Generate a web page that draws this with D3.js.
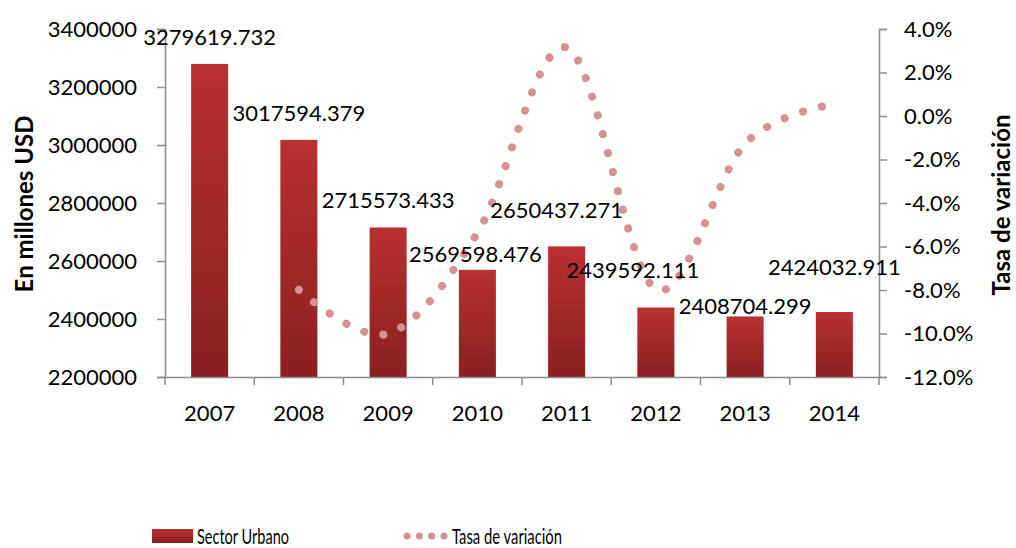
<!DOCTYPE html>
<html>
<head>
<meta charset="utf-8">
<script src="https://cdn.jsdelivr.net/npm/d3@7"></script>
<style>
  body { margin: 0; background: #fff; }
  svg { display: block; font-family: Lato, "Open Sans", sans-serif; }
  .axis path, .axis line { stroke: #8c8c8c; stroke-width: 1.5; }
  .axis text { font-size: 22px; fill: #000; font-family: Lato, sans-serif; }
  .val { font-size: 22px; fill: #000; }
  .title { font-size: 24px; font-weight: bold; fill: #000; }
  .leg { font-size: 22px; fill: #000; }
</style>
</head>
<body>
<svg id="chart" width="1016" height="548"></svg>
<script>
  /* ── Data ─────────────────────────────────────────────── */
  const years = ["2007", "2008", "2009", "2010", "2011", "2012", "2013", "2014"];
  const urbano = [3279619.732, 3017594.379, 2715573.433, 2569598.476,
                  2650437.271, 2439592.111, 2408704.299, 2424032.911];
  const rateYears = ["2008", "2009", "2010", "2011", "2012", "2013", "2014"];
  const tasa = [-0.0799, -0.1001, -0.0538, 0.0315, -0.0796, -0.0127, 0.0055];
  const leftTicks = [2200000, 2400000, 2600000, 2800000, 3000000, 3200000, 3400000];
  const rightTicks = [-0.12, -0.10, -0.08, -0.06, -0.04, -0.02, 0, 0.02, 0.04];

  /* label nudges (dx, dy) as placed in the original */
  const labelNudge = [[0, 0], [0, 0], [0, 0], [-2, 11], [-10, -9], [-23, -11], [0, 17], [0, -18]];

  /* ── Layout ───────────────────────────────────────────── */
  const M = { top: 29, right: 137, bottom: 171, left: 165 };
  const W = 1016, H = 548;
  const iW = W - M.left - M.right, iH = H - M.top - M.bottom;

  const svg = d3.select("#chart");
  const defs = svg.append("defs");
  const grad = defs.append("linearGradient").attr("id", "barGrad")
    .attr("x1", 0).attr("y1", 0).attr("x2", 0).attr("y2", 1);
  grad.append("stop").attr("offset", "0%").attr("stop-color", "#ba3030");
  grad.append("stop").attr("offset", "100%").attr("stop-color", "#8a2020");

  const g = svg.append("g").attr("transform", `translate(${M.left},${M.top})`);

  const x = d3.scaleBand().domain(years).range([0, iW])
    .paddingInner(0.585).paddingOuter(0.2925);
  const y = d3.scaleLinear().domain([2200000, 3400000]).range([iH, 0]);
  const y2 = d3.scaleLinear().domain([-0.12, 0.04]).range([iH, 0]);

  /* Bars */
  g.selectAll(".bar").data(years).join("rect")
    .attr("class", "bar")
    .attr("x", (d) => x(d))
    .attr("width", x.bandwidth())
    .attr("y", (d, i) => y(urbano[i]))
    .attr("height", (d, i) => iH - y(urbano[i]))
    .attr("fill", "url(#barGrad)");

  /* Left axis */
  g.append("g").attr("class", "axis")
    .call(d3.axisLeft(y).tickValues(leftTicks).tickSize(8).tickPadding(20).tickFormat(d3.format("d")));

  /* Right axis */
  g.append("g").attr("class", "axis")
    .attr("transform", `translate(${iW},0)`)
    .call(d3.axisRight(y2).tickValues(rightTicks).tickSize(8).tickPadding(17).tickFormat(d3.format(".1%")))
    .call((a) => a.selectAll("text").text((d) => d3.format(".1%")(d).replace("−", "-")));

  /* Bottom axis: labels centred, ticks at band edges */
  const xa = g.append("g").attr("class", "axis")
    .attr("transform", `translate(0,${iH})`)
    .call(d3.axisBottom(x).tickSize(0).tickPadding(28));
  xa.selectAll(".tick text").attr("dy", "0.71em");
  const edges = years.map((d, i) => i * x.step()).concat([iW]);
  xa.selectAll(".edge").data(edges).join("line")
    .attr("class", "edge")
    .attr("x1", (d) => d).attr("x2", (d) => d)
    .attr("y1", 0).attr("y2", 8);

  /* Rate line (smoothed, round dots) */
  const line = d3.line()
    .x((d, i) => x(rateYears[i]) + x.bandwidth() / 2)
    .y((d) => y2(d))
    .curve(d3.curveCatmullRom.alpha(0));
  g.append("path").datum(tasa)
    .attr("d", line)
    .attr("fill", "none")
    .attr("stroke", "#d49292")
    .attr("stroke-width", 8)
    .attr("stroke-linecap", "round")
    .attr("stroke-dasharray", "0.1 19.4");

  /* Value labels */
  g.selectAll(".val").data(years).join("text")
    .attr("class", "val")
    .attr("text-anchor", "middle")
    .attr("x", (d, i) => x(d) + x.bandwidth() / 2 + labelNudge[i][0])
    .attr("y", (d, i) => y(urbano[i]) - 19 + labelNudge[i][1])
    .text((d, i) => d3.format(".3f")(urbano[i]));

  /* Axis titles */
  svg.append("text").attr("class", "title")
    .attr("transform", "translate(33,204) rotate(-90)")
    .attr("text-anchor", "middle")
    .text("En millones USD");
  svg.append("text").attr("class", "title")
    .attr("transform", "translate(1010,205) rotate(-90)")
    .attr("text-anchor", "middle")
    .text("Tasa de variación");

  /* Legend */
  const leg = svg.append("g");
  leg.append("rect").attr("x", 152).attr("y", 529).attr("width", 41).attr("height", 14)
    .attr("fill", "url(#barGrad)");
  leg.append("text").attr("class", "leg").attr("x", 197).attr("y", 544)
    .attr("textLength", 92).attr("lengthAdjust", "spacingAndGlyphs")
    .text("Sector Urbano");
  leg.append("line").attr("x1", 407).attr("x2", 444).attr("y1", 536).attr("y2", 536)
    .attr("stroke", "#d49292").attr("stroke-width", 7).attr("stroke-linecap", "round")
    .attr("stroke-dasharray", "0.1 12.2");
  leg.append("text").attr("class", "leg").attr("x", 452).attr("y", 544)
    .attr("textLength", 110).attr("lengthAdjust", "spacingAndGlyphs")
    .text("Tasa de variación");
</script>
</body>
</html>
